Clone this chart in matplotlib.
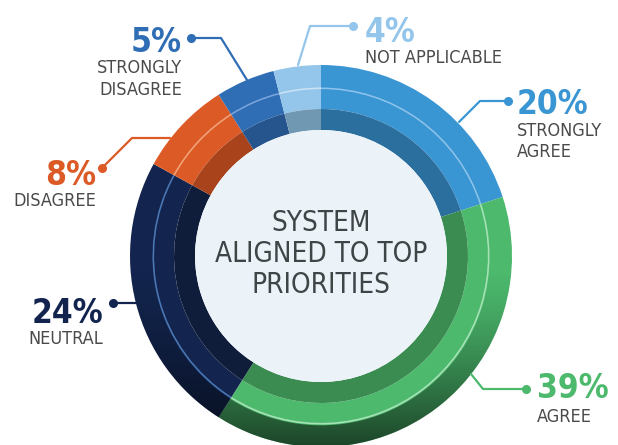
import numpy as np
import matplotlib
matplotlib.use("Agg")
import matplotlib.pyplot as plt
from matplotlib.patches import Circle, Wedge

# data, clockwise from 12 o'clock
labels = ["STRONGLY\nAGREE", "AGREE", "NEUTRAL", "DISAGREE", "STRONGLY\nDISAGREE", "NOT APPLICABLE"]
values = [20, 39, 24, 8, 5, 4]
pct_labels = ["20%", "39%", "24%", "8%", "5%", "4%"]
center_title = "SYSTEM\nALIGNED TO TOP\nPRIORITIES"

outer_colors = ["#3a95d3", "#4cb96d", "#13254e", "#dc5a26", "#2f6db5", "#94c6ec"]
inner_colors = ["#2b6f9f", "#3a8c51", "#0f1c3a", "#a9431c", "#26558e", "#7098b3"]
line_colors = ["#8cc3ea", "#a8e3b8", "#4a78b5", "#f0a47a", "#7aa5dc", "#c9e2f5"]

plt.rcParams['font.family'] = ['DejaVu Sans']
plt.rcParams['font.stretch'] = 'condensed'

W, H = 618, 445
fig = plt.figure(figsize=(6.18, 4.45), dpi=100)
ax = fig.add_axes([0, 0, 1, 1])

def py(y):
    # pixel row -> data y
    return H - y

cx, cy = 321, py(256)
R = 191

ax.pie(values, radius=R, center=(cx, cy), startangle=90, counterclock=False,
       colors=outer_colors, wedgeprops=dict(width=44, linewidth=0))
ax.pie(values, radius=147, center=(cx, cy), startangle=90, counterclock=False,
       colors=inner_colors, wedgeprops=dict(width=21, linewidth=0))
ax.pie(values, radius=168.5, center=(cx, cy), startangle=90, counterclock=False,
       colors=line_colors, wedgeprops=dict(width=1.6, linewidth=0))

# shading on the outer rim, darker toward the bottom
yy = np.linspace(0, H, 300)
a = np.clip((H - yy - 270) / 175, 0, 1) ** 1.3 * 0.62
grad = np.zeros((300, 1, 4))
grad[:, 0, 3] = a
im = ax.imshow(grad, extent=(0, W, 0, H), origin='lower', aspect='auto', zorder=3)
ring = Wedge((cx, cy), R, 0, 360, width=R - 168.5 - 0.8, transform=ax.transData)
im.set_clip_path(ring)

ax.add_patch(Circle((cx, cy), 126, fc="#ebf3f8", ec="none", zorder=4))
ax.text(cx, py(254), center_title, ha='center', va='center', fontsize=20,
        color="#3f4447", linespacing=1.12, zorder=5)

# label layout: (ha, x, pct baseline, name baselines, leader points)
layout = [
    ("left", 517, 114, [136, 157], [(459, 122), (480, 101), (508, 101)]),
    ("left", 537, 398, [422], [(471, 374), (483, 389), (526, 389)]),
    ("right", 103, 323, [344], [(137, 303), (113, 303)]),
    ("right", 96, 185, [206], [(170, 138), (132, 138), (102, 168)]),
    ("right", 182, 52, [73, 95], [(247, 80), (221, 38), (191, 38)]),
    ("left", 365, 42, [63], [(298, 65), (310, 26), (353, 26)]),
]

for i, (ha, x, yb, ynames, pts) in enumerate(layout):
    col = outer_colors[i]
    xs = [p[0] for p in pts]
    ys = [py(p[1]) for p in pts]
    ax.plot(xs, ys, color=col, lw=1.6, zorder=6, solid_capstyle='round')
    ax.plot(xs[-1], ys[-1], 'o', color=col, ms=5.5, zorder=6)
    ax.text(x, py(yb), pct_labels[i], ha=ha, va='baseline', fontsize=24,
            color=col, fontweight='bold')
    for line, yn in zip(labels[i].split("\n"), ynames):
        ax.text(x, py(yn), line, ha=ha, va='baseline', fontsize=13, color="#4a4a4a")

ax.set_xlim(0, W)
ax.set_ylim(0, H)
ax.set_aspect('equal')
ax.axis('off')
fig.savefig("out.png", dpi=100)
